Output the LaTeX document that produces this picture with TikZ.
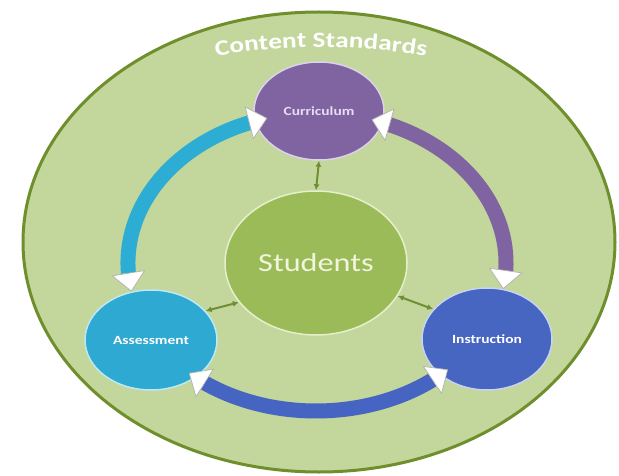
\documentclass[tikz,border=0pt]{standalone}
\usepackage{fontspec}
\setmainfont{Carlito}
\newfontfamily\widefont[FakeStretch=1.24]{Carlito}
\usetikzlibrary{arrows.meta,shapes.geometric,decorations.text,bending}

\definecolor{ringfill}{HTML}{C3D69B}
\definecolor{ringline}{HTML}{6E8F2C}
\definecolor{currfill}{HTML}{8064A2}
\definecolor{currline}{HTML}{DCD2EA}
\definecolor{studfill}{HTML}{9BBB59}
\definecolor{studline}{HTML}{E6EFCB}
\definecolor{asmtfill}{HTML}{2EA9D2}
\definecolor{asmtline}{HTML}{BEE8F3}
\definecolor{instfill}{HTML}{4766C2}
\definecolor{instline}{HTML}{C9D3F0}
\definecolor{cyanband}{HTML}{2DADD3}
\definecolor{purpleband}{HTML}{8064A2}
\definecolor{blueband}{HTML}{4665C3}
\definecolor{linkgreen}{HTML}{6F8F35}
\definecolor{studtext}{HTML}{F0F5DC}
\definecolor{currtext}{HTML}{E6DEF1}

\tikzset{
  bandtip/.tip={Triangle[width=34pt,length=19pt,fill=white,color=black!30,line width=0.7pt]},
  band/.style={line width=15pt, arrows={bandtip-bandtip}},
  link/.style={draw=linkgreen, line width=2pt,
    arrows={Latex[length=6pt,width=6pt]-Latex[length=6pt,width=6pt]}},
  topic/.style={ellipse, inner sep=0pt, line width=1.5pt,
    font=\widefont\bfseries\fontsize{12.5}{14}\selectfont, text=white},
}

\begin{document}
\begin{tikzpicture}[x=1pt,y=1pt]
  \useasboundingbox (0,0) rectangle (619,475);

  % outer field: content standards
  \node[ellipse, draw=ringline, fill=ringfill, line width=3pt,
        minimum width=592pt, minimum height=460pt, inner sep=0pt] (ring) at (319,233) {};
  \path[decorate, decoration={text along path, text align=center,
        text={|\widefont\bfseries\fontsize{22}{24}\selectfont\color{white}|Content Standards}}]
    (321,-172) ++(106:600pt) coordinate (cstart) arc[start angle=106, end angle=74, radius=600pt];

  % the four circles
  \node[topic, draw=currline, fill=currfill, text=currtext,
        minimum width=130pt, minimum height=98pt] (curr) at (319,364) {Curriculum};
  \node[ellipse, inner sep=0pt, line width=1.5pt, draw=studline, fill=studfill,
        minimum width=182pt, minimum height=144pt, text=studtext,
        font=\widefont\fontsize{26}{30}\selectfont] (stud) at (316,212) {Students};
  \node[topic, draw=asmtline, fill=asmtfill,
        minimum width=132pt, minimum height=100pt] (asmt) at (151,135) {Assessment};
  \node[topic, draw=instline, fill=instfill,
        minimum width=130pt, minimum height=102pt] (inst) at (487,136) {Instruction};

  % cycle bands around the students
  \draw[band, draw=cyanband]
    ([shift={(191:188pt and 150pt)}]stud.center) coordinate (cyanA)
    arc[start angle=191, end angle=105, x radius=188pt, y radius=150pt];
  \draw[band, draw=purpleband]
    ([shift={(73:190pt and 150pt)}]stud.center) coordinate (purpleA)
    arc[start angle=73, end angle=-10, x radius=190pt, y radius=150pt];
  \draw[band, draw=blueband]
    ([shift={(228:190pt and 148pt)}]stud.center) coordinate (blueA)
    arc[start angle=228, end angle=314, x radius=190pt, y radius=148pt];

  % links between the students and each topic
  \draw[link] (curr.south) -- (stud.north);
  \draw[link] (stud.207) -- (asmt.28);
  \draw[link] (stud.338) -- (inst.151);
\end{tikzpicture}
\end{document}
